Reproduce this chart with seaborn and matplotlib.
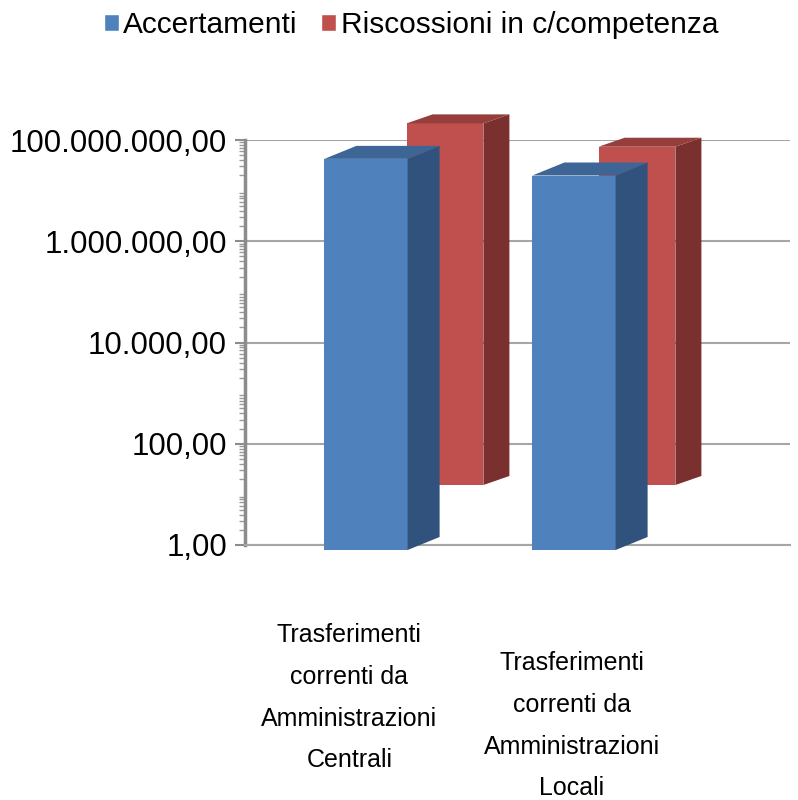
import matplotlib
matplotlib.use("Agg")
import matplotlib.pyplot as plt
import matplotlib.transforms as mtransforms
from matplotlib.patches import Patch, Polygon
from matplotlib.ticker import FixedLocator, LogLocator, NullFormatter
import seaborn as sns

# data
categories = ["Trasferimenti\ncorrenti da\nAmministrazioni\nCentrali",
              "Trasferimenti\ncorrenti da\nAmministrazioni\nLocali"]
accertamenti = [1.2e7, 6.0e6]
riscossioni = [9.0e6, 3.2e6]
series_names = ["Accertamenti", "Riscossioni in c/competenza"]
y_ticks = [1, 1e2, 1e4, 1e6, 1e8]
y_tick_labels = ["1,00", "100,00", "10.000,00", "1.000.000,00", "100.000.000,00"]

BLUE, BLUE_SIDE, BLUE_TOP = "#4f81bd", "#30527c", "#3d6596"
RED, RED_SIDE, RED_TOP = "#c0504d", "#7a302e", "#953e3b"
GRID = "#a6a6a6"

sns.set_style("white")
plt.rcParams["font.family"] = ["Liberation Sans", "DejaVu Sans"]
plt.rcParams["text.color"] = "black"

fig = plt.figure(figsize=(7.98, 8), dpi=100)
W, H = 798, 800


def rect(left, top, right, bottom):
    # pixel box -> figure fraction
    return [left / W, 1 - bottom / H, (right - left) / W, (bottom - top) / H]


# back wall with gridlines and value axis
wall = fig.add_axes(rect(245, 140, 790, 545), zorder=0)
wall.set_yscale("log")
wall.set_ylim(1, 1e8)
wall.set_xlim(0, 1)
wall.yaxis.set_major_locator(FixedLocator(y_ticks))
wall.set_yticklabels(y_tick_labels, fontsize=22.5, color="black")
wall.yaxis.set_minor_locator(LogLocator(base=10, subs=range(2, 10), numticks=100))
wall.yaxis.set_minor_formatter(NullFormatter())
wall.tick_params(axis="y", which="major", left=True, length=7, width=1.5,
                 color="#8c8c8c", pad=6)
wall.tick_params(axis="y", which="minor", left=True, length=4, width=1, color="#9a9a9a")
wall.set_xticks([])
wall.grid(axis="y", which="major", color=GRID, lw=1.5)
for s in ["top", "right"]:
    wall.spines[s].set_visible(False)
wall.spines["left"].set_color("#8c8c8c")
wall.spines["left"].set_linewidth(2.5)
wall.spines["bottom"].set_color(GRID)
wall.spines["bottom"].set_linewidth(1.5)


def bar_layer(box, values, face, side, top, dx, dy, z):
    ax = fig.add_axes(box, zorder=z)
    ax.patch.set_alpha(0)
    sns.barplot(x=[0, 1], y=values, color=face, width=0.4, saturation=1,
                linewidth=0, ax=ax, native_scale=True)
    ax.set_yscale("log")
    ax.set_ylim(1, 1e8)
    ax.set_xlim(-0.5, 1.5)
    ax.set_axis_off()
    ident = mtransforms.IdentityTransform()
    for bar in list(ax.patches):
        x0 = bar.get_x()
        x1 = x0 + bar.get_width()
        (px0, pb), (px1, pt) = ax.transData.transform([(x0, 1), (x1, bar.get_height())])
        ax.add_patch(Polygon([(px1, pb), (px1 + dx, pb + dy), (px1 + dx, pt + dy), (px1, pt)],
                             closed=True, transform=ident, facecolor=side,
                             edgecolor="none", clip_on=False))
        ax.add_patch(Polygon([(px0, pt), (px1, pt), (px1 + dx, pt + dy), (px0 + dx, pt + dy)],
                             closed=True, transform=ident, facecolor=top,
                             edgecolor="none", clip_on=False))
    return ax


back = bar_layer(rect(349, 69, 733, 485), riscossioni, RED, RED_SIDE, RED_TOP, 26, 9, 1)
front = bar_layer(rect(262, 108, 678, 550), accertamenti, BLUE, BLUE_SIDE, BLUE_TOP, 32, 13, 2)

# category labels, staggered like the original
label_shift = [-0.08, -0.01]
label_top = [0.221, 0.186]
blend = mtransforms.blended_transform_factory(front.transData, fig.transFigure)
for i, lab in enumerate(categories):
    front.text(i + label_shift[i], label_top[i], lab, transform=blend, ha="center",
               va="top", fontsize=18, linespacing=1.93, color="black", clip_on=False)

handles = [Patch(facecolor=BLUE, label=series_names[0]),
           Patch(facecolor=RED, label=series_names[1])]
fig.legend(handles=handles, loc="upper center", bbox_to_anchor=(0.515, 1.012), ncol=2,
           frameon=False, handlelength=0.5, handleheight=0.5, handletextpad=0.15,
           columnspacing=0.8, borderpad=0.2,
           prop={"family": ["Liberation Sans Narrow", "Liberation Sans"], "size": 21.5})

fig.savefig("out.png", dpi=100)
